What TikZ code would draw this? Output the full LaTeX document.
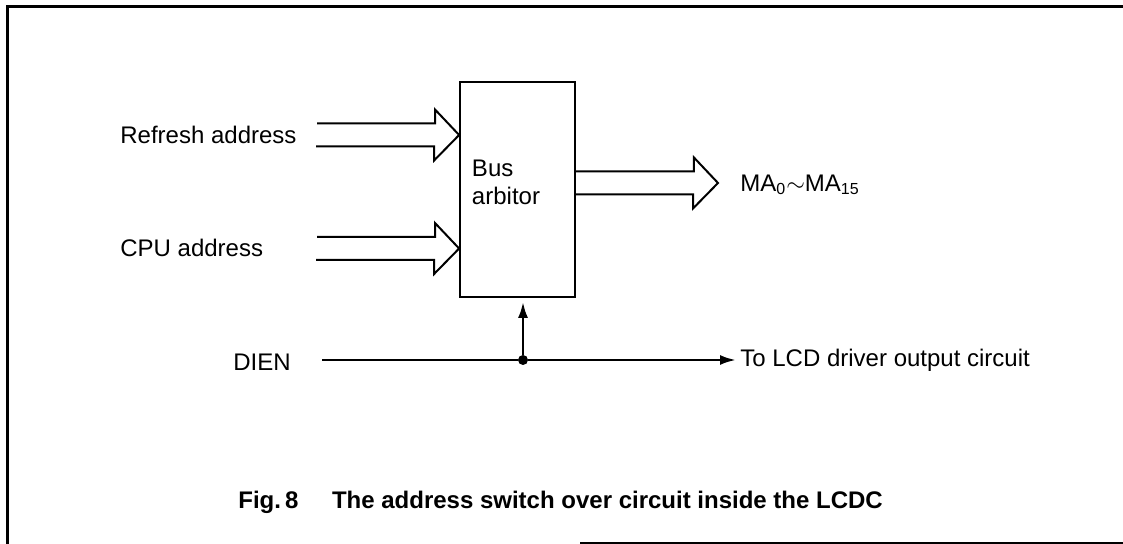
\documentclass[tikz,border=0pt]{standalone}
\usepackage{fontspec}
\setmainfont{Liberation Sans}
\usetikzlibrary{arrows.meta}
\tikzset{
  bus/.style={line width=1pt, line join=miter},
  sig/.style={line width=1.3pt, >={Latex[length=8pt,width=5pt]}},
  lbl/.style={inner sep=0pt, font=\fontsize{12}{14}\selectfont},
}
\begin{document}
\begin{tikzpicture}[x=0.5pt,y=-0.5pt]
\useasboundingbox (0,0) rectangle (1123,544);
% frame
\draw[line width=1.5pt] (1123,7) -- (7,7) -- (7,544);
\draw[line width=1pt] (580,543) -- (1123,543);

% arbitor block
\node[draw, line width=0.9pt, minimum width=57.5pt, minimum height=107.5pt, inner sep=0pt] (B) at (517.5,189.5) {};
\node[lbl, align=left] (T) at (506,182) {Bus\\arbitor};

% inputs
\node[lbl, anchor=west] (R) at (120,135) {Refresh address};
\node[lbl, anchor=west] (C) at (120,248) {CPU address};
\coordinate (r) at (317,135);
\coordinate (c) at (317,248.5);
\draw[bus] (r) ++(0,-11.5) -- ++(118,0) -- ++(0,-14) -- (B.west |- r) -- ++(-25,25.5) -- ++(0,-14) -- ++(-118,0);
\draw[bus] (c) ++(0,-11.5) -- ++(118,0) -- ++(0,-14) -- (B.west |- c) -- ++(-25,25.5) -- ++(0,-14) -- ++(-118,0);

% output
\coordinate (m) at (718,183);
\draw[bus] (B.east |- m) ++(0,-11.5) -- ++(118,0) -- ++(0,-14) -- (m) -- ++(-25,25.5) -- ++(0,-14) -- ++(-118,0);
\node[lbl, anchor=west] (M) at (740,185) {MA\textsubscript{0}$\sim$MA\textsubscript{15}};

% DIEN
\node[lbl] (D) at (262,362) {DIEN};
\coordinate (d0) at (322,360);
\node[circle, fill=black, inner sep=0pt, minimum size=5pt] (J) at (523,360) {};
\node[lbl, anchor=west] (L) at (740,360) {To LCD driver output circuit};
\draw[sig] (d0) -- (J);
\draw[sig, ->, shorten >=2pt] (J) -- (L.west);
\draw[sig, ->, shorten >=2pt] (J) -- (J |- B.south);

% caption
\node[lbl, font=\bfseries\fontsize{12}{14}\selectfont, anchor=west] (F) at (238,502) {Fig.\,8\hspace{1.4em}The address switch over circuit inside the LCDC};
\end{tikzpicture}
\end{document}
